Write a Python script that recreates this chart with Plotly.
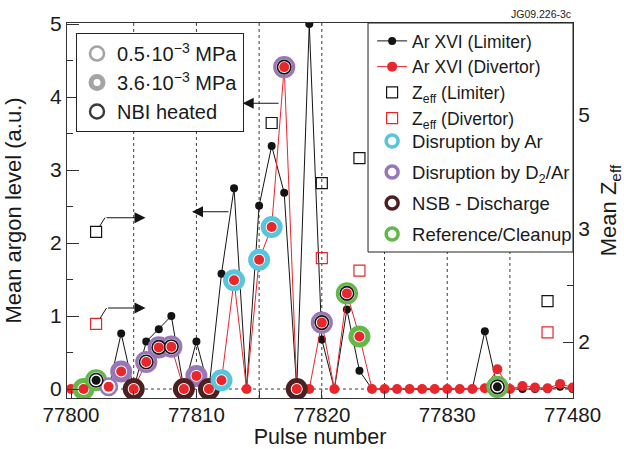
import plotly.graph_objects as go

# ---------------- data ----------------
pulses = list(range(77800, 77841))
ar_limiter = [0, 0, 0.12, 0, 0.76, 0, 0.65, 0.82, 1.00, 0,
              0.65, 0, 1.58, 2.75, 0, 2.51, 3.33, 2.69, 0, 5.0,
              0.68, 0, 1.09, 0.25, 0, 0, 0, 0, 0, 0,
              0, 0, 0, 0.79, 0.03, 0, 0, 0, 0, 0.03, 0]
ar_divertor = [0, 0, 0.07, 0.03, 0.24, 0, 0.37, 0.57, 0.58, 0,
               0.18, 0, 0.12, 1.49, 0, 1.77, 2.22, 4.41, 0, 0,
               0.91, 0, 1.31, 0.72, 0, 0, 0, 0, 0, 0,
               0, 0, 0, 0.01, 0.27, 0, 0.04, 0.02, 0.01, 0.07, 0.02]

zeff_lim_pulses = [77802, 77816, 77820, 77823, 77838]
zeff_limiter = [2.97, 3.93, 3.40, 3.62, 2.36]
zeff_div_pulses = [77802, 77820, 77823, 77838]
zeff_divertor = [2.16, 2.74, 2.63, 2.085]

ring_pulses = [77801, 77802, 77803, 77804, 77805, 77806, 77807, 77808, 77809, 77810,
               77811, 77812, 77813, 77815, 77816, 77817, 77818, 77820, 77822, 77823, 77834]
ring_class = ["ref", "ref", "d2ar", "d2ar", "nsb", "d2ar", "d2ar", "d2ar", "nsb", "d2ar",
              "nsb", "ar", "ar", "ar", "ar", "d2ar", "nsb", "d2ar", "ref", "ref", "ref"]
ring_style = ["thick", "nbi", "thin", "thick", "thick", "nbi", "nbi", "nbi", "thick", "thick",
              "thick", "thick", "thick", "thick", "thick", "nbi", "thick", "nbi", "nbi", "thick", "nbi"]
ring_on = ["D", "L", "D", "D", "D", "D", "D", "D", "D", "D",
           "D", "D", "D", "D", "D", "D", "D", "D", "D", "D", "L"]

x_tickvals = [77800, 77810, 77820, 77830, 77840]
x_ticktext = ["77800", "77810", "77820", "77830", "77480"]
grid_pulses = [77805, 77810, 77815, 77820, 77825, 77830, 77835]
y_tickvals = [0, 1, 2, 3, 4, 5]
y2_tickvals = [2, 3, 4]
y2_ticktext = ["2", "3", "5"]

# ---------------- styles ----------------
FONT = "Liberation Sans, Arial, sans-serif"
RED = "#e8262b"
BLACK = "#141414"
GRAY = "#a4a4a4"
class_colors = {"ar": "#58c5dc", "d2ar": "#9877b8", "nsb": "#4b2020", "ref": "#62b848"}
class_names = {"ar": "Disruption by Ar", "d2ar": "Disruption by D<sub>2</sub>/Ar",
               "nsb": "NSB - Discharge", "ref": "Reference/Cleanup"}
class_order = ["ar", "d2ar", "nsb", "ref"]

lim = dict(zip(pulses, ar_limiter))
div = dict(zip(pulses, ar_divertor))

fig = go.Figure()

# main series (lines + markers, legend entries)
fig.add_trace(go.Scatter(x=pulses, y=ar_limiter, mode="lines+markers", name="Ar XVI (Limiter)",
                         line=dict(color=BLACK, width=1), marker=dict(color=BLACK, size=8),
                         legend="legend"))
fig.add_trace(go.Scatter(x=pulses, y=ar_divertor, mode="lines+markers", name="Ar XVI (Divertor)",
                         line=dict(color=RED, width=1), marker=dict(color=RED, size=10),
                         legend="legend"))
fig.add_trace(go.Scatter(x=zeff_lim_pulses, y=zeff_limiter, yaxis="y2", mode="markers",
                         name="Z<sub>eff</sub> (Limiter)",
                         marker=dict(symbol="square-open", color=BLACK, size=11, line=dict(width=1.2)),
                         legend="legend"))
fig.add_trace(go.Scatter(x=zeff_div_pulses, y=zeff_divertor, yaxis="y2", mode="markers",
                         name="Z<sub>eff</sub> (Divertor)",
                         marker=dict(symbol="square-open", color=RED, size=11, line=dict(width=1.2)),
                         legend="legend"))

# rings
style_marker = {"thick": (17, 5.0), "thin": (16.5, 2.5), "nbi": (19, 3.2)}
groups = {}
for p, c, s, o in zip(ring_pulses, ring_class, ring_style, ring_on):
    yv = lim[p] if o == "L" else div[p]
    groups.setdefault((c, s), ([], []))
    groups[(c, s)][0].append(p)
    groups[(c, s)][1].append(yv)
for (c, s), (xs, ys) in groups.items():
    sz, lw = style_marker[s]
    fig.add_trace(go.Scatter(x=xs, y=ys, mode="markers", showlegend=False, hoverinfo="skip",
                             marker=dict(symbol="circle", size=sz, color="white",
                                         line=dict(color=class_colors[c], width=lw))))
# NBI inner black rings
nbi_x = [p for p, s in zip(ring_pulses, ring_style) if s == "nbi"]
nbi_y = [lim[p] if o == "L" else div[p] for p, s, o in zip(ring_pulses, ring_style, ring_on) if s == "nbi"]
fig.add_trace(go.Scatter(x=nbi_x, y=nbi_y, mode="markers", showlegend=False, hoverinfo="skip",
                         marker=dict(symbol="circle", size=13.5, color="white",
                                     line=dict(color=BLACK, width=1.6))))
# centre dots
cd_x = [p for p, o in zip(ring_pulses, ring_on) if o == "D"]
cd_y = [div[p] for p in cd_x]
cl_x = [p for p, o in zip(ring_pulses, ring_on) if o == "L"]
cl_y = [lim[p] for p in cl_x]
fig.add_trace(go.Scatter(x=cd_x, y=cd_y, mode="markers", showlegend=False, hoverinfo="skip",
                         marker=dict(color=RED, size=10)))
fig.add_trace(go.Scatter(x=cl_x, y=cl_y, mode="markers", showlegend=False, hoverinfo="skip",
                         marker=dict(color=BLACK, size=9)))

# legend-only entries: pressure / heating (left legend)
fig.add_trace(go.Scatter(x=[None], y=[None], mode="markers", name="0.5·10<sup>−3</sup> MPa",
                         marker=dict(size=14, color="white", line=dict(color=GRAY, width=2.6)),
                         legend="legend2"))
fig.add_trace(go.Scatter(x=[None], y=[None], mode="markers", name="3.6·10<sup>−3</sup> MPa",
                         marker=dict(size=12, color="white", line=dict(color=GRAY, width=5)),
                         legend="legend2"))
fig.add_trace(go.Scatter(x=[None], y=[None], mode="markers", name="NBI heated",
                         marker=dict(size=14, color="white", line=dict(color="#3a3a3a", width=2.4)),
                         legend="legend2"))
# legend-only entries: discharge classes (lower right legend)
for c in class_order:
    fig.add_trace(go.Scatter(x=[None], y=[None], mode="markers", name=class_names[c],
                             legendgroup=c,
                             marker=dict(size=12, color="white", line=dict(color=class_colors[c], width=3.5)),
                             legend="legend3"))

# ---------------- decorations ----------------
shapes = []
for p in grid_pulses:
    shapes.append(dict(type="line", xref="x", yref="paper", x0=p, x1=p, y0=0, y1=1,
                       line=dict(color="#3a3a3a", width=1, dash="dot"), layer="below"))
shapes.append(dict(type="line", xref="paper", yref="y", x0=0, x1=1, y0=0, y1=0,
                   line=dict(color="#3a3a3a", width=1, dash="dot"), layer="below"))
# right legend frame
shapes.append(dict(type="rect", xref="paper", yref="paper", x0=0.5949, x1=1.0, y0=0.3893, y1=1.0,
                   fillcolor="white", line=dict(color="#222", width=1), layer="above"))
# elbow segments of the Zeff arrows
shapes.append(dict(type="line", xref="x", yref="y", x0=77802.27, y0=2.226, x1=77802.71, y1=2.347,
                   line=dict(color=BLACK, width=1)))
shapes.append(dict(type="line", xref="x", yref="y", x0=77802.31, y0=0.966, x1=77802.83, y1=1.110,
                   line=dict(color=BLACK, width=1)))

arrow_kw = dict(xref="x", yref="y", axref="x", ayref="y", text="", showarrow=True,
                arrowhead=2, arrowsize=2.0, arrowwidth=1.1, arrowcolor=BLACK, standoff=0)
annotations = [
    dict(x=77805.94, y=2.347, ax=77802.71, ay=2.347, **arrow_kw),
    dict(x=77805.94, y=1.110, ax=77802.83, ay=1.110, **arrow_kw),
    dict(x=77809.65, y=2.429, ax=77812.68, ay=2.429, **arrow_kw),
    dict(x=77813.69, y=3.914, ax=77816.67, ay=3.914, **arrow_kw),
    dict(x=1.0, y=1.0, xref="paper", yref="paper", xanchor="right", yanchor="bottom",
         text="JG09.226-3c", showarrow=False, yshift=1, font=dict(size=10.5, color="#222")),
]

axis_common = dict(showgrid=False, zeroline=False, showline=True, linecolor="#333", linewidth=1.3,
                   tickcolor="#333", automargin=False)

fig.update_layout(
    width=624, height=449,
    margin=dict(l=67, r=51, t=23, b=51, autoexpand=False),
    paper_bgcolor="white", plot_bgcolor="white",
    font=dict(family=FONT, size=20, color="#1a1a1a"),
    xaxis=dict(range=[77799.68, 77840.03], tickmode="array", tickvals=x_tickvals, ticktext=x_ticktext,
               ticks="inside", ticklen=7, mirror=True, tickfont=dict(size=20.5, color="#1a1a1a"),
               ticklabelstandoff=-2,
               minor=dict(tick0=77800, dtick=5, ticks="inside", ticklen=7, tickcolor="#333", showgrid=False),
               title=dict(text="Pulse number", font=dict(size=21.5), standoff=10),
               **axis_common),
    yaxis=dict(range=[-0.123, 5.014], tickmode="array", tickvals=y_tickvals,
               ticks="inside", ticklen=12, tickfont=dict(size=21, color="#1a1a1a"),
               minor=dict(tick0=0, dtick=0.5, ticks="inside", ticklen=6, tickcolor="#333", showgrid=False),
               title=dict(text="Mean argon level (a.u.)", font=dict(size=22), standoff=22),
               **axis_common),
    yaxis2=dict(overlaying="y", side="right", range=[1.507, 4.811], tickmode="array",
                tickvals=y2_tickvals, ticktext=y2_ticktext, ticks="inside", ticklen=10,
                tickfont=dict(size=21, color="#1a1a1a"),
                minor=dict(tick0=1.5, dtick=0.5, ticks="inside", ticklen=6, tickcolor="#333", showgrid=False),
                title=dict(text="Mean Z<sub>eff</sub>", font=dict(size=22), standoff=13),
                **axis_common),
    legend=dict(x=0.603, y=1.0, xanchor="left", yanchor="top", bgcolor="rgba(0,0,0,0)",
                borderwidth=0, font=dict(size=17.5), traceorder="normal"),
    legend3=dict(x=0.603, y=0.735, xanchor="left", yanchor="top", bgcolor="rgba(0,0,0,0)",
                 borderwidth=0, font=dict(size=18.5), traceorder="grouped", tracegroupgap=4),
    legend2=dict(x=0.0178, y=0.9733, xanchor="left", yanchor="top", bgcolor="white",
                 bordercolor="#222", borderwidth=1, font=dict(size=20), traceorder="normal"),
    shapes=shapes,
    annotations=annotations,
)

fig.write_html("out.html", config={"displayModeBar": False},
               post_script="document.body.style.margin='0';")
